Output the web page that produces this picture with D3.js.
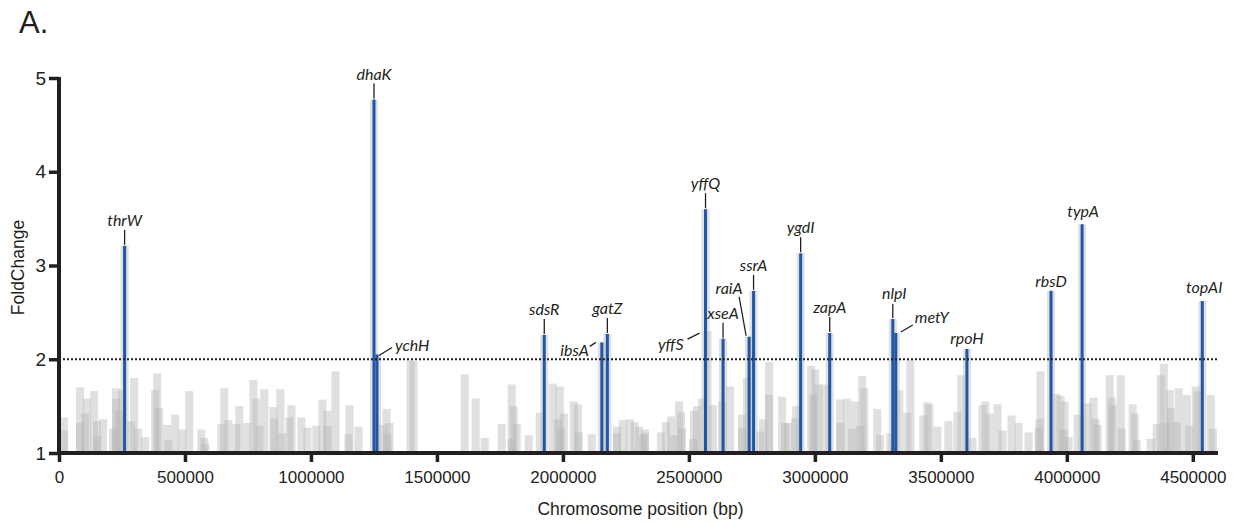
<!DOCTYPE html>
<html>
<head>
<meta charset="utf-8">
<script src="https://cdn.jsdelivr.net/npm/d3@7"></script>
<style>
  html, body { margin: 0; padding: 0; background: #fff; }
  svg { display: block; }
</style>
</head>
<body>
<svg id="chart" width="1236" height="523"></svg>
<script>
// ---------------- DATA ----------------
const yTicks = [1, 2, 3, 4, 5];
const xTicks = [0, 500000, 1000000, 1500000, 2000000, 2500000, 3000000, 3500000, 4000000, 4500000];
const threshold = 2;

// background (non-significant) windows: start position (bp) and fold change
const bgPositions = [
  4000, 4000, 67600, 67600, 87500, 95400, 123200, 135200, 135200, 159000,
  198800, 210700, 210700, 222600, 234500, 270300, 282200, 298100, 326000, 365700,
  373700, 381600, 413400, 417400, 445200, 473000, 500900, 548600, 560500, 564500,
  628100, 640000, 655900, 687700, 699600, 731400, 755300, 767200, 779100, 799000,
  834800, 838700, 862600, 870500, 898400, 906300, 946100, 969900, 1005700, 1029500,
  1049400, 1049400, 1081200, 1132900, 1136900, 1172600, 1268000, 1283900, 1287900, 1295900,
  1379300, 1391300, 1594000, 1637700, 1673600, 1741100, 1780800, 1788800, 1800700, 1780800,
  1848400, 1892100, 1943800, 1963700, 1971700, 1975600, 1987500, 2027300, 2043200, 2047100,
  2098800, 2198200, 2198200, 2222000, 2249900, 2269700, 2285600, 2301500, 2309500, 2309500,
  2373100, 2393000, 2412800, 2424800, 2444600, 2452600, 2456600, 2500300, 2504300, 2516200,
  2536100, 2579800, 2615600, 2647400, 2695100, 2695100, 2715000, 2766700, 2778600, 2802500,
  2802500, 2854100, 2866100, 2878000, 2905800, 2909800, 2969400, 2977400, 2985300, 2997200,
  3021000, 3084600, 3112500, 3132300, 3144300, 3164100, 3172100, 3180000, 3084600, 3231700,
  3243600, 3283400, 3319100, 3351000, 3362900, 3414600, 3430500, 3438500, 3470300, 3514000,
  3549800, 3565700, 3609400, 3649200, 3661100, 3677000, 3708800, 3728700, 3764500, 3792300,
  3832100, 3871900, 3875800, 3879800, 3943400, 3959300, 3971200, 3975200, 3991100, 4026900,
  4066600, 4090500, 4098400, 4106400, 4154100, 4162000, 4166000, 4197800, 4201800, 4245500,
  4253500, 4261400, 4317100, 4340900, 4356800, 4368700, 4392600, 4396600, 4428400, 4460200,
  4495900, 4503900, 4555600, 4563600, 4380000, 4420000, 4470000
];
const bgFolds = [
  1.38, 1.24, 1.70, 1.32, 1.42, 1.58, 1.66, 1.34, 1.18, 1.36,
  1.26, 1.69, 1.58, 1.45, 1.67, 1.34, 1.80, 1.26, 1.17, 1.67,
  1.85, 1.48, 1.30, 1.14, 1.41, 1.25, 1.66, 1.25, 1.16, 1.10,
  1.31, 1.69, 1.35, 1.31, 1.50, 1.32, 1.78, 1.58, 1.29, 1.68,
  1.49, 1.37, 1.68, 1.21, 1.38, 1.51, 1.38, 1.27, 1.29, 1.57,
  1.45, 1.29, 1.87, 1.20, 1.51, 1.28, 1.30, 1.47, 1.20, 1.32,
  1.99, 1.98, 1.84, 1.58, 1.16, 1.31, 1.73, 1.50, 1.31, 1.15,
  1.19, 1.43, 1.74, 1.36, 1.71, 1.27, 1.42, 1.55, 1.52, 1.22,
  1.20, 1.28, 1.21, 1.35, 1.36, 1.33, 1.28, 1.20, 1.25, 1.21,
  1.22, 1.33, 1.39, 1.19, 1.55, 1.44, 1.26, 1.15, 1.45, 1.50,
  1.58, 1.51, 1.55, 1.71, 1.41, 1.27, 1.80, 1.23, 1.36, 1.97,
  1.62, 1.60, 1.32, 1.32, 1.37, 1.50, 1.93, 1.62, 1.89, 1.73,
  1.73, 1.57, 1.58, 1.26, 1.55, 1.29, 1.82, 1.69, 1.32, 1.47,
  1.19, 1.21, 1.67, 1.43, 1.99, 1.40, 1.54, 1.52, 1.28, 1.34,
  1.44, 1.83, 1.16, 1.51, 1.55, 1.42, 1.52, 1.24, 1.40, 1.32,
  1.22, 1.27, 1.36, 1.87, 1.63, 1.61, 1.25, 1.55, 1.17, 1.41,
  1.53, 1.59, 1.36, 1.30, 1.83, 1.59, 1.51, 1.83, 1.26, 1.52,
  1.42, 1.14, 1.15, 1.31, 1.83, 1.95, 1.67, 1.48, 1.69, 1.62,
  1.71, 1.66, 1.62, 1.26, 1.32, 1.33, 1.29
];

// labelled genes: centre position (bp), fold change, significant (blue) or not
const geneNames = ["thrW", "dhaK", "ychH", "sdsR", "ibsA", "gatZ", "yffQ", "yffS", "xseA", "raiA",
                   "ssrA", "ygdI", "zapA", "nlpI", "metY", "rpoH", "rbsD", "typA", "topAI"];
const genePositions = [260400, 1250200, 1262100, 1926000, 2154500, 2176400, 2566000, 2574000, 2635600, 2739000,
                       2756700, 2943600, 3058900, 3309300, 3321200, 3603500, 3937300, 4060600, 4537600];
const geneFolds = [3.21, 4.77, 2.05, 2.26, 2.18, 2.27, 3.60, 2.30, 2.22, 2.24,
                   2.73, 3.13, 2.28, 2.43, 2.28, 2.11, 2.73, 3.44, 2.62];
const geneSignificant = [true, true, true, true, true, true, true, false, true, true,
                         true, true, true, true, true, true, true, true, true];

// ---------------- LAYOUT ----------------
const M = { left: 59, right: 1218, top: 78, bottom: 453 };
const binWidth = 32000;   // bp covered by each window
const blueWidth = 12000;  // bp width of highlighted bar
const ink = "#231f20";
const blue = "#2157a8";

const LINE = { tx: 0, ty: -20, anchor: "middle", l: [0, -16, 0, -1] };
const labelLayout = {
  thrW: LINE, dhaK: LINE, sdsR: LINE, gatZ: LINE, yffQ: LINE, xseA: LINE,
  ssrA: LINE, ygdI: LINE, zapA: LINE, nlpI: { tx: 1.5, ty: -20, anchor: "middle", l: [0, -15, 0, -1] },
  ychH: { tx: 18, ty: -4, anchor: "start", l: [2, 1, 15, -7] },
  ibsA: { tx: -13, ty: 14, anchor: "end", l: [-12, 4, -6, 0] },
  yffS: { tx: -24, ty: 19, anchor: "end", l: [-20, 8, -8, 2] },
  raiA: { tx: -20, ty: -43, anchor: "middle", l: [-10, -40, -3, -1] },
  metY: { tx: 19, ty: -10, anchor: "start", l: [5, -1, 17, -8] },
  rpoH: { tx: 0, ty: -5, anchor: "middle" },
  rbsD: { tx: 0, ty: -4, anchor: "middle" },
  typA: { tx: 1, ty: -7, anchor: "middle" },
  topAI: { tx: 2, ty: -8, anchor: "middle" }
};

const svg = d3.select("#chart");
const x = d3.scaleLinear().domain([0, 4600000]).range([M.left, M.right]);
const y = d3.scaleLinear().domain([1, 5]).range([M.bottom, M.top]);

const bg = bgPositions.map((p, i) => ({ pos: p, fold: bgFolds[i] }));
const genes = geneNames.map((n, i) => ({ name: n, pos: genePositions[i], fold: geneFolds[i], sig: geneSignificant[i] }));

// grey background bars
svg.append("g").selectAll("rect").data(bg).join("rect")
  .attr("x", d => x(d.pos))
  .attr("width", d => x(d.pos + binWidth) - x(d.pos))
  .attr("y", d => y(d.fold))
  .attr("height", d => y(1) - y(d.fold))
  .attr("fill", "#b4b4b4")
  .attr("fill-opacity", 0.42);

// grey bars behind labelled genes
svg.append("g").selectAll("rect").data(genes).join("rect")
  .attr("x", d => x(d.pos - binWidth / 2))
  .attr("width", d => x(binWidth) - x(0))
  .attr("y", d => y(d.fold))
  .attr("height", d => y(1) - y(d.fold))
  .attr("fill", "#b4b4b4")
  .attr("fill-opacity", 0.42);

// blue significant bars
svg.append("g").selectAll("rect").data(genes.filter(d => d.sig)).join("rect")
  .attr("x", d => x(d.pos - blueWidth / 2))
  .attr("width", d => x(blueWidth) - x(0))
  .attr("y", d => y(d.fold))
  .attr("height", d => y(1) - y(d.fold))
  .attr("fill", blue);

// threshold dotted line
svg.append("line")
  .attr("x1", M.left).attr("x2", M.right)
  .attr("y1", y(threshold)).attr("y2", y(threshold))
  .attr("stroke", ink).attr("stroke-width", 2)
  .attr("stroke-dasharray", "2,2");

// labels
const lab = svg.append("g");
genes.forEach(d => {
  const L = labelLayout[d.name];
  const cx = x(d.pos), ty = y(d.fold);
  if (L.l) {
    lab.append("line")
      .attr("x1", cx + L.l[0]).attr("y1", ty + L.l[1])
      .attr("x2", cx + L.l[2]).attr("y2", ty + L.l[3])
      .attr("stroke", ink).attr("stroke-width", 1.3);
  }
  lab.append("text")
    .attr("x", cx + L.tx).attr("y", ty + L.ty)
    .attr("text-anchor", L.anchor)
    .attr("font-family", "Lato, 'Open Sans', sans-serif")
    .attr("font-style", "italic")
    .attr("font-size", 16)
    .attr("fill", ink)
    .text(d.name);
});

// axes
const yAxis = svg.append("g").attr("transform", `translate(${M.left},0)`)
  .call(d3.axisLeft(y).tickValues(yTicks).tickFormat(d3.format("d")).tickSize(10).tickPadding(3));
const xAxis = svg.append("g").attr("transform", `translate(0,${M.bottom})`)
  .call(d3.axisBottom(x).tickValues(xTicks).tickFormat(d3.format("d")).tickSize(9).tickPadding(9));

[yAxis, xAxis].forEach(g => {
  g.select(".domain").remove();
  g.selectAll(".tick line").attr("stroke", ink).attr("stroke-width", 3.5);
  g.selectAll(".tick text").attr("fill", ink).attr("font-family", "'Liberation Sans', Arial, sans-serif");
});
yAxis.selectAll(".tick text").attr("font-size", 19);
xAxis.selectAll(".tick text").attr("font-size", 17);

svg.append("line").attr("x1", M.left).attr("x2", M.left).attr("y1", M.top - 1).attr("y2", M.bottom + 2)
  .attr("stroke", ink).attr("stroke-width", 4);
svg.append("line").attr("x1", M.left - 2).attr("x2", M.right).attr("y1", M.bottom).attr("y2", M.bottom)
  .attr("stroke", ink).attr("stroke-width", 4);

// axis titles
svg.append("text")
  .attr("transform", `translate(24,${(M.top + M.bottom) / 2 + 2}) rotate(-90)`)
  .attr("text-anchor", "middle")
  .attr("font-family", "'Liberation Sans', Arial, sans-serif")
  .attr("font-size", 17.5).attr("fill", ink)
  .text("FoldChange");
svg.append("text")
  .attr("x", (M.left + M.right) / 2 + 2).attr("y", 515)
  .attr("text-anchor", "middle")
  .attr("font-family", "'Liberation Sans', Arial, sans-serif")
  .attr("font-size", 17.5).attr("fill", ink)
  .text("Chromosome position (bp)");
svg.append("text")
  .attr("x", 19).attr("y", 33)
  .attr("font-family", "'Liberation Sans', Arial, sans-serif")
  .attr("font-size", 31).attr("fill", ink)
  .text("A.");
</script>
</body>
</html>
